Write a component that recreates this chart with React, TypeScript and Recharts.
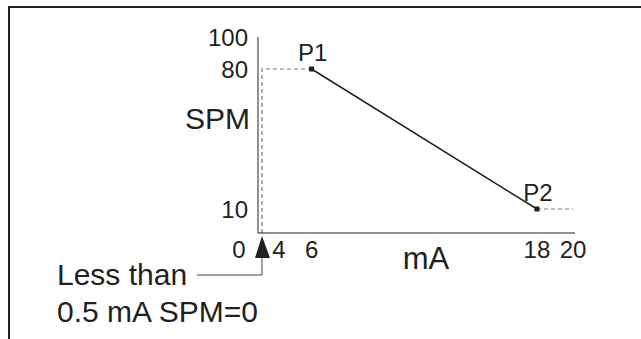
import React from "react";
import { LineChart, Line, XAxis, YAxis, ReferenceDot, Label, LabelList } from "recharts";

// set points of the curve (mA -> SPM)
const pointNames = ["P1", "P2"];
const pointMA = [6, 18];
const pointSPM = [80, 10];

// dashed hold lines
const lowHoldMA = [0.5, 0.5, 6];
const lowHoldSPM = [0, 80, 80];
const highHoldMA = [18, 20];
const highHoldSPM = [10, 10];

const xTicks = [0, 4, 6, 18, 20];
const yTicks = [10, 80, 100];

// the drawing is a schematic: both axes are broken, so the scales are piecewise
const xBreaks = [0, 0.5, 4, 6, 18, 20];
const xBreakPos = [-0.06, 0.0126, 0.066, 0.169, 0.88, 0.994];
const yBreaks = [0, 10, 80, 100];
const yBreakPos = [0, 0.1224, 0.8367, 1];

const FONT = "'Liberation Sans', Arial, sans-serif";
const INK = "#231f20";

function brokenScale(values: number[], fracs: number[]): any {
  let dom = [values[0], values[values.length - 1]];
  let rng = [0, 1];
  const s: any = (v: number) => {
    let i = 0;
    while (i < values.length - 2 && v > values[i + 1]) i++;
    const t = (v - values[i]) / (values[i + 1] - values[i]);
    const f = fracs[i] + t * (fracs[i + 1] - fracs[i]);
    return rng[0] + f * (rng[1] - rng[0]);
  };
  s.domain = (d?: number[]) => {
    if (d === undefined) return dom.slice();
    dom = d.slice();
    return s;
  };
  s.range = (r?: number[]) => {
    if (r === undefined) return rng.slice();
    rng = r.slice();
    return s;
  };
  s.copy = () => brokenScale(values, fracs).domain(dom).range(rng);
  s.ticks = () => values.slice();
  s.clamp = () => s;
  s.nice = () => s;
  return s;
}

const xScale = brokenScale(xBreaks, xBreakPos);
const yScale = brokenScale(yBreaks, yBreakPos);

const curve = pointMA.map((x, i) => ({ x, y: pointSPM[i], name: pointNames[i] }));
const lowHold = lowHoldMA.map((x, i) => ({ x, y: lowHoldSPM[i] }));
const highHold = highHoldMA.map((x, i) => ({ x, y: highHoldSPM[i] }));

const SquareDot = (props: any) => {
  const { cx, cy } = props;
  if (cx == null || cy == null) return null;
  return <rect x={cx - 2.5} y={cy - 2.5} width={5} height={5} fill={INK} />;
};

const PointLabel = (props: any) => {
  const { x, y, value } = props;
  return (
    <text x={x + 1} y={y - 8} textAnchor="middle" fontSize={24} fontFamily={FONT} fill={INK}>
      {value}
    </text>
  );
};

// arrow under the axis with the cut-off note
const CutOffNote = (props: any) => {
  const { cx, cy } = props;
  if (cx == null || cy == null) return null;
  return (
    <g>
      <polygon points={`${cx - 7},${cy + 25} ${cx},${cy + 3} ${cx + 8},${cy + 25}`} fill={INK} />
      <path d={`M${cx},${cy + 25} V${cy + 42} H${cx - 65}`} stroke="#444" strokeWidth={1} fill="none" />
      <text x={cx - 205} y={cy + 52} fontSize={30} fontFamily={FONT} fill={INK}>
        Less than
      </text>
      <text x={cx - 205} y={cy + 89} fontSize={30} fontFamily={FONT} fill={INK}>
        0.5 mA SPM=0
      </text>
    </g>
  );
};

const App = () => {
  return (
    <div style={{ position: "absolute", left: 0, top: 0, width: 641, height: 339, background: "#fff" }}>
      <div
        style={{
          position: "absolute",
          left: 8,
          top: 6,
          right: 0,
          bottom: 0,
          borderTop: `2px solid ${INK}`,
          borderLeft: `2px solid ${INK}`,
        }}
      />
      <LineChart width={641} height={339} margin={{ top: 37, right: 66, bottom: 76, left: 198 }}>
        <XAxis
          type="number"
          dataKey="x"
          domain={[0, 20]}
          scale={xScale}
          ticks={xTicks}
          interval={0}
          tickLine={false}
          height={30}
          axisLine={{ stroke: INK, strokeWidth: 1 }}
          tick={{ fontSize: 24, fontFamily: FONT, fill: INK }}
        >
          <Label
            content={(p: any) => (
              <text x={p.viewBox.x + 168} y={p.viewBox.y + 36} textAnchor="middle" fontSize={31} fontFamily={FONT} fill={INK}>
                mA
              </text>
            )}
          />
        </XAxis>
        <YAxis
          type="number"
          dataKey="y"
          domain={[0, 100]}
          scale={yScale}
          ticks={yTicks}
          interval={0}
          width={60}
          tickLine={false}
          tickMargin={4}
          axisLine={{ stroke: INK, strokeWidth: 1 }}
          tick={{ fontSize: 24, fontFamily: FONT, fill: INK }}
        >
          <Label
            content={(p: any) => (
              <text x={p.viewBox.x + p.viewBox.width - 8} y={p.viewBox.y + 92} textAnchor="end" fontSize={30} fontFamily={FONT} fill={INK}>
                SPM
              </text>
            )}
          />
        </YAxis>
        <Line
          data={lowHold}
          dataKey="y"
          stroke="#777"
          strokeWidth={1.2}
          strokeDasharray="4 3"
          dot={false}
          activeDot={false}
          isAnimationActive={false}
        />
        <Line
          data={highHold}
          dataKey="y"
          stroke="#777"
          strokeWidth={1.2}
          strokeDasharray="4 3"
          dot={false}
          activeDot={false}
          isAnimationActive={false}
        />
        <Line
          data={curve}
          dataKey="y"
          stroke={INK}
          strokeWidth={1.5}
          dot={<SquareDot />}
          activeDot={false}
          isAnimationActive={false}
        >
          <LabelList dataKey="name" content={<PointLabel />} />
        </Line>
        <ReferenceDot x={0.5} y={0} r={0} ifOverflow="visible" shape={<CutOffNote />} />
      </LineChart>
    </div>
  );
};

export default App;
